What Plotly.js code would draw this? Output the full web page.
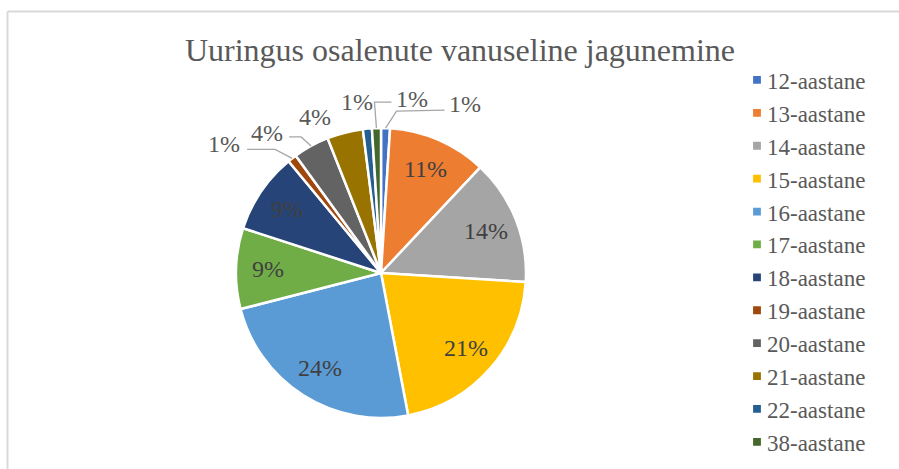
<!DOCTYPE html>
<html>
<head>
<meta charset="utf-8">
<script src="https://cdn.plot.ly/plotly-3.0.1.min.js"></script>
<style>
  html, body { margin: 0; padding: 0; background: #fff; }
  #chart { width: 899px; height: 469px; }
</style>
</head>
<body>
<div id="chart"></div>
<script>
// ---- data ----
const categories = ["12-aastane", "13-aastane", "14-aastane", "15-aastane", "16-aastane", "17-aastane",
                    "18-aastane", "19-aastane", "20-aastane", "21-aastane", "22-aastane", "38-aastane"];
const percents = [1, 11, 14, 21, 24, 9, 9, 1, 4, 4, 1, 1];
const colors = ["#4472C4", "#ED7D31", "#A5A5A5", "#FFC000", "#5B9BD5", "#70AD47",
                "#264478", "#9E480E", "#636363", "#997300", "#255E91", "#43682B"];

// ---- layout constants (pixels) ----
const W = 899, H = 469;
const CX = 381, CY = 273, R = 145;
const FONT = "Liberation Serif";

// label placement style for small slices: offsets (px) from slice-edge anchor
const outsideStyle = {
  "12-aastane": { elbow: [11, -17], end: [59, -18], text: [79, -24] },
  "38-aastane": { elbow: [-2, -26], end: [15, -26], text: [36, -29] },
  "22-aastane": { text: [-10, -27] },
  "21-aastane": { text: [-30, -16] },
  "20-aastane": { elbow: [-10, -9], end: [-22, -9], text: [-44, -13] },
  "19-aastane": { elbow: [-17, -9], end: [-45, -9], text: [-68, -14] }
};
const insideRadius = 0.78;

const px = x => x / W;
const py = y => 1 - y / H;

const total = percents.reduce((a, b) => a + b, 0);
const annotations = [];
const shapes = [];
let cum = 0;
percents.forEach((v, i) => {
  const mid = (cum + v / 2) / total * 2 * Math.PI; // clockwise from top
  cum += v;
  const sx = Math.sin(mid), cy = -Math.cos(mid);
  const st = outsideStyle[categories[i]];
  if (st) {
    const ax = CX + R * sx, ay = CY + R * cy;
    if (st.elbow) {
      const ex = ax + st.elbow[0], ey = ay + st.elbow[1];
      const tx = ax + st.end[0], ty = ay + st.end[1];
      shapes.push({
        type: "path", xref: "paper", yref: "paper",
        path: `M${px(ax)},${py(ay)} L${px(ex)},${py(ey)} L${px(tx)},${py(ty)}`,
        line: { color: "#A6A6A6", width: 1.3 }
      });
    }
    annotations.push({
      xref: "paper", yref: "paper", x: px(ax + st.text[0]), y: py(ay + st.text[1]),
      xanchor: "center", yanchor: "middle", showarrow: false,
      text: v + "%", font: { family: FONT, size: 24, color: "#595959" }
    });
  } else {
    const rr = R * insideRadius;
    annotations.push({
      xref: "paper", yref: "paper", x: px(CX + rr * sx), y: py(CY + rr * cy),
      xanchor: "center", yanchor: "middle", showarrow: false,
      text: v + "%", font: { family: FONT, size: 24, color: "#404040" }
    });
  }
});

// chart frame
shapes.push({ type: "line", xref: "paper", yref: "paper", x0: px(7.5), x1: 1.01, y0: py(11.5), y1: py(11.5),
              line: { color: "#D9D9D9", width: 2 } });
shapes.push({ type: "line", xref: "paper", yref: "paper", x0: px(7.5), x1: px(7.5), y0: py(11.5), y1: -0.01,
              line: { color: "#D9D9D9", width: 2 } });

const trace = {
  type: "pie",
  labels: categories,
  values: percents,
  sort: false,
  direction: "clockwise",
  rotation: 0,
  textinfo: "none",
  hoverinfo: "label+percent",
  marker: { colors: colors, line: { color: "#FFFFFF", width: 2.5 } },
  domain: { x: [px(CX - R), px(CX + R)], y: [py(CY + R), py(CY - R)] }
};

const layout = {
  width: W, height: H,
  margin: { l: 0, r: 0, t: 0, b: 0 },
  paper_bgcolor: "#FFFFFF",
  plot_bgcolor: "#FFFFFF",
  font: { family: FONT, color: "#595959" },
  title: {
    text: "Uuringus osalenute vanuseline jagunemine",
    font: { family: FONT, size: 32, color: "#595959" },
    x: 460 / W, xanchor: "center", xref: "paper",
    y: 1 - 50 / H, yanchor: "middle", yref: "container"
  },
  showlegend: true,
  legend: {
    x: 737 / W, xanchor: "left", y: py(58.5), yanchor: "top",
    font: { family: FONT, size: 23, color: "#595959" },
    bgcolor: "rgba(0,0,0,0)", itemclick: false
  },
  annotations: annotations,
  shapes: shapes
};

Plotly.newPlot("chart", [trace], layout, { displayModeBar: false, staticPlot: true }).then(() => {
  document.querySelectorAll("#chart .legendpoints path").forEach(p => {
    p.setAttribute("transform", (p.getAttribute("transform") || "") + " scale(0.65)");
    p.style.strokeWidth = "0";
  });
  document.querySelectorAll("#chart .legendtext").forEach(t => {
    t.setAttribute("x", 30);
  });
});
</script>
</body>
</html>
